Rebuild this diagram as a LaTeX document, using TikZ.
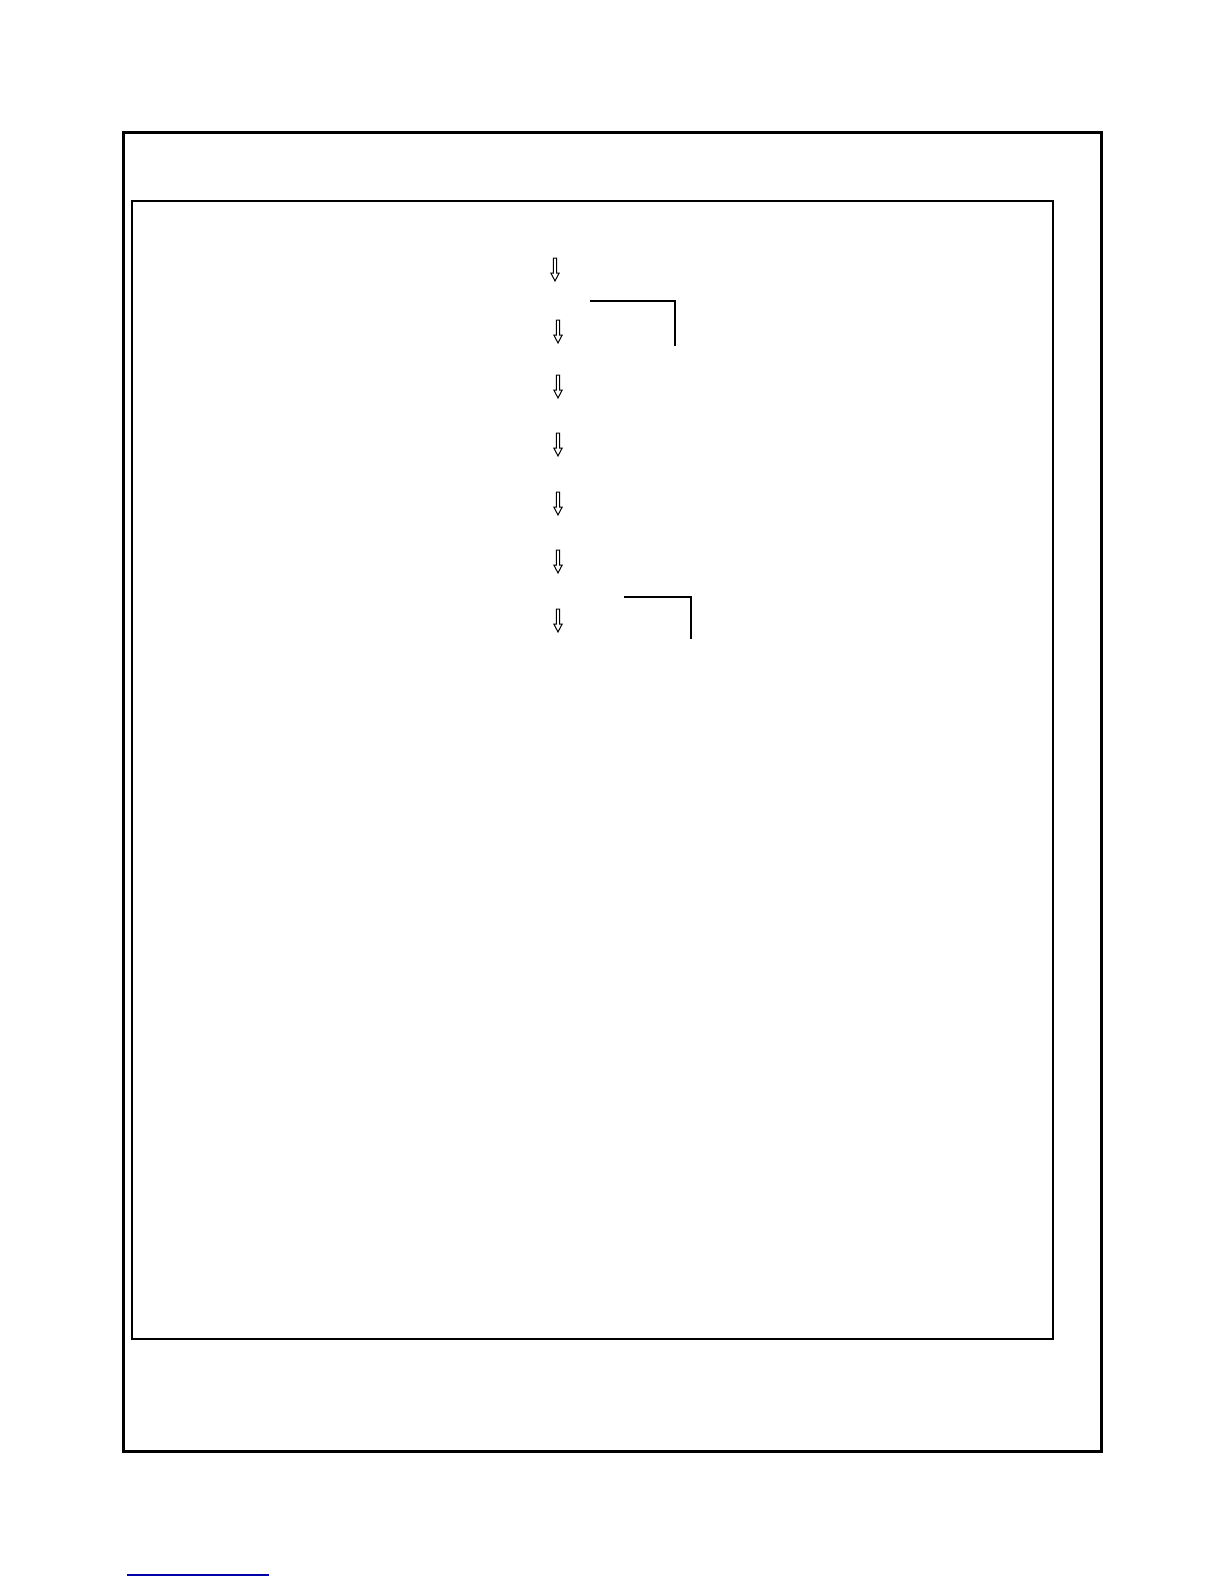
\documentclass[tikz,border=0pt]{standalone}
\definecolor{linkblue}{RGB}{0,0,170}
\begin{document}
\begin{tikzpicture}[x=0.5pt,y=-0.5pt]
        \tikzstyle{outer frame}=[line width=1.5pt]
        \tikzstyle{inner frame}=[line width=1pt]
        \tikzstyle{bracket}=[line width=1pt]
        \tikzset{hollow down/.pic={\draw[line width=0.5pt,line join=miter] (-1.6,0) -- (1.6,0) -- (1.6,15) -- (4.2,15) -- (0,23) -- (-4.2,15) -- (-1.6,15) -- cycle;}}
        \useasboundingbox (0,0) rectangle (1224,1584);
        \draw[outer frame] (123.5,132.5) rectangle (1101.5,1451.5);
        \draw[inner frame] (132,201) rectangle (1052.5,1339);
        \foreach \x/\y in {555/258, 558/320, 558/375, 558/433, 558/492, 558/550, 558/609}
            \pic at (\x,\y) {hollow down};
        \draw[bracket] (590,301) -- (675,301) -- (675,346);
        \draw[bracket] (624,597) -- (691,597) -- (691,639);
        \draw[linkblue, line width=1pt] (127,1575) -- (269,1575);
    \end{tikzpicture}
\end{document}
